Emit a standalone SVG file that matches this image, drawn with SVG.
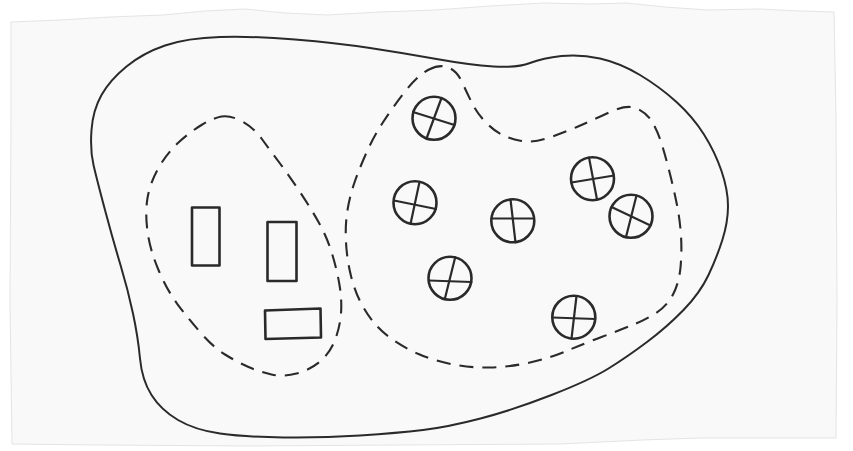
<svg xmlns="http://www.w3.org/2000/svg" width="853" height="451" viewBox="0 0 853 451">
<style>
.ink{fill:none;stroke:#2a2a2a;stroke-linecap:round;stroke-linejoin:round}
.outer{stroke-width:2}
.dash{stroke-width:2.1;stroke-dasharray:14 9;stroke-linecap:butt}
.sym{stroke-width:2.6}
.x{stroke-width:2.2}
</style>
<rect x="0" y="0" width="853" height="451" fill="#ffffff"/>
<path d="M11,22 L60,20 L110,17 L163,15 L205,11 L245,9 L285,13 L327,15 L380,12 L435,10 L490,6 L544,3 L590,4 L626,3 L665,7 L708,10 L760,9 L800,11 L834,12 L836,120 L837,300 L836,438 L700,438 L642,440 L560,444 L400,445 L250,446 L100,445 L12,444 L10,300 L11,120 Z" fill="#f9f9f9" stroke="#e4e4e4" stroke-width="1"/>
<g id="outer-boundary">
<path class="ink outer" d="M91.5,130 Q93,110 101.5,95 Q110,80 126.5,66.5 Q143,53 165,45.5 Q187,38 220,37 Q253,36 295,39.5 Q337,43 370,48 Q403,53 436.5,59 Q470,65 493.5,66.5 Q517,68 530,63 Q543,58 561.5,56 Q580,54 600,58.5 Q620,63 640,75 Q660,87 676.5,102 Q693,117 704,134.5 Q715,152 721.5,171 Q728,190 728,206 Q728,222 722.5,239.5 Q717,257 708.5,275 Q700,293 683.5,310 Q667,327 647,342 Q627,357 608.5,368.5 Q590,380 551.5,395 Q513,410 480.5,418.5 Q448,427 423,430 Q398,433 360,435.5 Q322,438 283.5,437.5 Q245,437 220,433.5 Q195,430 178,420 Q161,410 151.5,395 Q142,380 140,358.5 Q138,337 133,313.5 Q128,290 120.5,265 Q113,240 105,210 Q97,180 93.5,165 Q90,150 91.5,130 Z"/>
</g>
<g id="left-group">
<path class="ink dash" d="M221.5,116.5 Q230,115 241.5,121 Q253,127 261.5,138.5 Q270,150 280,163.5 Q290,177 300,192 Q310,207 318.5,222 Q327,237 332,253.5 Q337,270 339.5,285 Q342,300 341,313.5 Q340,327 335,340 Q330,353 320,361.5 Q310,370 296.5,373.5 Q283,377 271.5,374.5 Q260,372 248.5,367 Q237,362 225,354.5 Q213,347 200,332 Q187,317 177,303.5 Q167,290 158.5,270 Q150,250 147.5,231.5 Q145,213 147.5,198 Q150,183 158.5,168 Q167,153 178.5,142.5 Q190,132 201.5,125 Q213,118 221.5,116.5 Z"/>
</g>
<g id="right-group">
<path class="ink dash" d="M429,69.5 Q440,64 448.5,67.5 Q457,71 462,82 Q467,93 472,103 Q477,113 485,121.5 Q493,130 501.5,134.5 Q510,139 521.5,141 Q533,143 548,138 Q563,133 578,126.5 Q593,120 610,112 Q627,104 637,108.5 Q647,113 652.5,122.5 Q658,132 662,145 Q666,158 670,174 Q674,190 677,205 Q680,220 681,236 Q682,252 680.5,267.5 Q679,283 673,294.5 Q667,306 656,313 Q645,320 632.5,325 Q620,330 601.5,337 Q583,344 566.5,351 Q550,358 530,362.5 Q510,367 490,367.5 Q470,368 451,364 Q432,360 418.5,354 Q405,348 394,340.5 Q383,333 375.5,324.5 Q368,316 361.5,304 Q355,292 351,276 Q347,260 346,242.5 Q345,225 347.5,210 Q350,195 355,181 Q360,167 367,151.5 Q374,136 383.5,121.5 Q393,107 405.5,91 Q418,75 429,69.5 Z"/>
</g>
<g id="rect-1"><rect class="ink sym" x="192" y="207.5" width="27.5" height="58"/></g>
<g id="rect-2"><rect class="ink sym" x="267.5" y="222" width="29" height="59"/></g>
<g id="rect-3"><polygon class="ink sym" points="265,310.5 320.5,308.5 321,337.5 265.5,339"/></g>
<g id="circle-1">
<circle class="ink sym" cx="434" cy="118.3" r="21.5"/>
<line class="ink x" x1="413" y1="112" x2="454.5" y2="125"/>
<line class="ink x" x1="441.5" y1="98" x2="426.5" y2="138.5"/>
</g>
<g id="circle-2">
<circle class="ink sym" cx="415" cy="202.7" r="21.5"/>
<line class="ink x" x1="394" y1="200.5" x2="436" y2="209"/>
<line class="ink x" x1="419.5" y1="182" x2="410.5" y2="224"/>
</g>
<g id="circle-3">
<circle class="ink sym" cx="512.8" cy="220.8" r="21.5"/>
<line class="ink x" x1="491.5" y1="218.5" x2="534" y2="218.5"/>
<line class="ink x" x1="510.5" y1="199.5" x2="515.5" y2="242.3"/>
</g>
<g id="circle-4">
<circle class="ink sym" cx="592.5" cy="178.7" r="21.5"/>
<line class="ink x" x1="571.5" y1="182.5" x2="614" y2="175.5"/>
<line class="ink x" x1="589" y1="157.5" x2="597" y2="199.5"/>
</g>
<g id="circle-5">
<circle class="ink sym" cx="631" cy="216.3" r="21.5"/>
<line class="ink x" x1="611.5" y1="207" x2="650.5" y2="225.5"/>
<line class="ink x" x1="636.5" y1="195.5" x2="626" y2="237"/>
</g>
<g id="circle-6">
<circle class="ink sym" cx="450" cy="278.3" r="21.5"/>
<line class="ink x" x1="428.8" y1="280.5" x2="471.3" y2="282"/>
<line class="ink x" x1="455.2" y1="257.2" x2="444.8" y2="299"/>
</g>
<g id="circle-7">
<circle class="ink sym" cx="573.8" cy="317.2" r="21.5"/>
<line class="ink x" x1="552.3" y1="317.5" x2="595.3" y2="319"/>
<line class="ink x" x1="576.5" y1="296" x2="571.5" y2="338.7"/>
</g>
</svg>
